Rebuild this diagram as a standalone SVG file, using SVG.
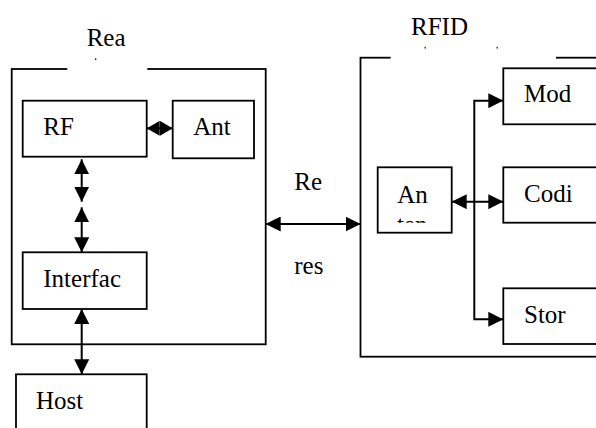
<svg xmlns="http://www.w3.org/2000/svg" width="596" height="428" viewBox="0 0 596 428">
<style>
.box{fill:#fff;stroke:#000;stroke-width:1.8}
.frame{fill:none;stroke:#000;stroke-width:1.8}
.lbl{font-family:"Liberation Serif","Times New Roman",serif;font-size:25px;fill:#000}
.conn{fill:none;stroke:#000;stroke-width:2}
.mask{fill:#fff;stroke:none}
</style>
<defs>
<marker id="ah" viewBox="0 0 15 15" refX="15" refY="7.5" markerWidth="15" markerHeight="15" markerUnits="userSpaceOnUse" orient="auto-start-reverse"><path d="M0,0 L15,7.5 L0,15 z" fill="#000"/></marker>
<marker id="ahs" viewBox="0 0 13 15" refX="13" refY="7.5" markerWidth="13" markerHeight="15" markerUnits="userSpaceOnUse" orient="auto-start-reverse"><path d="M0,0 L13,7.5 L0,15 z" fill="#000"/></marker>
<clipPath id="clipTen"><rect x="377" y="160" width="75" height="62.7"/></clipPath>
</defs>
<rect width="596" height="428" fill="#fff"/>

<g id="reader">
<rect class="frame" x="11.7" y="69" width="254" height="275.3"/>
<rect class="mask" x="67.3" y="62" width="80" height="10"/>
<text class="lbl" x="86.7" y="46">Rea</text>
<rect x="95" y="58.3" width="1.3" height="1.7" fill="#222"/>
</g>

<g id="rfid">
<rect class="frame" x="360.5" y="57.7" width="260" height="299"/>
<rect class="mask" x="390.7" y="50" width="165.3" height="10"/>
<text class="lbl" x="411" y="35">RFID</text>
<rect x="424.5" y="46.8" width="1.3" height="1.7" fill="#222"/>
<rect x="496.5" y="46.8" width="1.3" height="1.7" fill="#222"/>
</g>

<g id="rf">
<rect class="box" x="22.7" y="100.7" width="124" height="56"/>
<text class="lbl" x="43.3" y="135">RF</text>
</g>

<g id="ant">
<rect class="box" x="172.7" y="100.7" width="81.3" height="57.6"/>
<text class="lbl" x="193.3" y="135">Ant</text>
</g>

<g id="interface">
<rect class="box" x="22.7" y="252.3" width="124" height="56.7"/>
<text class="lbl" x="43.3" y="287">Interfac</text>
</g>

<g id="host">
<rect class="box" x="16" y="374.3" width="130.7" height="70"/>
<text class="lbl" x="36" y="408.5">Host</text>
</g>

<g id="antenna">
<rect class="box" x="377.7" y="167.3" width="74" height="65.4"/>
<text class="lbl" x="397.3" y="202.7">An</text>
<text class="lbl" x="397" y="232.8" clip-path="url(#clipTen)">ten</text>
</g>

<g id="mod">
<rect class="box" x="503.3" y="68.3" width="110" height="56"/>
<text class="lbl" x="524" y="102.3">Mod</text>
</g>

<g id="codi">
<rect class="box" x="503.3" y="167.3" width="110" height="55.4"/>
<text class="lbl" x="524" y="201.7">Codi</text>
</g>

<g id="stor">
<rect class="box" x="503.3" y="288.3" width="110" height="55.7"/>
<text class="lbl" x="524" y="323.3">Stor</text>
</g>

<g id="link-label">
<text class="lbl" x="294.3" y="189.8">Re</text>
<text class="lbl" x="294.3" y="274.3">res</text>
</g>

<g id="connectors">
<line class="conn" x1="146.7" y1="128.3" x2="172.7" y2="128.3" marker-start="url(#ahs)" marker-end="url(#ahs)"/>
<line class="conn" x1="81.7" y1="159.3" x2="81.7" y2="201.7" marker-start="url(#ah)" marker-end="url(#ah)"/>
<line class="conn" x1="81.7" y1="207.3" x2="81.7" y2="252.3" marker-start="url(#ah)" marker-end="url(#ah)"/>
<line class="conn" x1="81.7" y1="309" x2="81.7" y2="374.3" marker-start="url(#ah)" marker-end="url(#ah)"/>
<line class="conn" x1="265.7" y1="224" x2="360.5" y2="224" marker-start="url(#ah)" marker-end="url(#ah)"/>
<line class="conn" x1="451.7" y1="201.7" x2="503.3" y2="201.7" marker-start="url(#ah)" marker-end="url(#ah)"/>
<path class="conn" d="M503.3,100.7 H474.3 V319.3 H503.3" marker-start="url(#ah)" marker-end="url(#ah)"/>
</g>
</svg>
